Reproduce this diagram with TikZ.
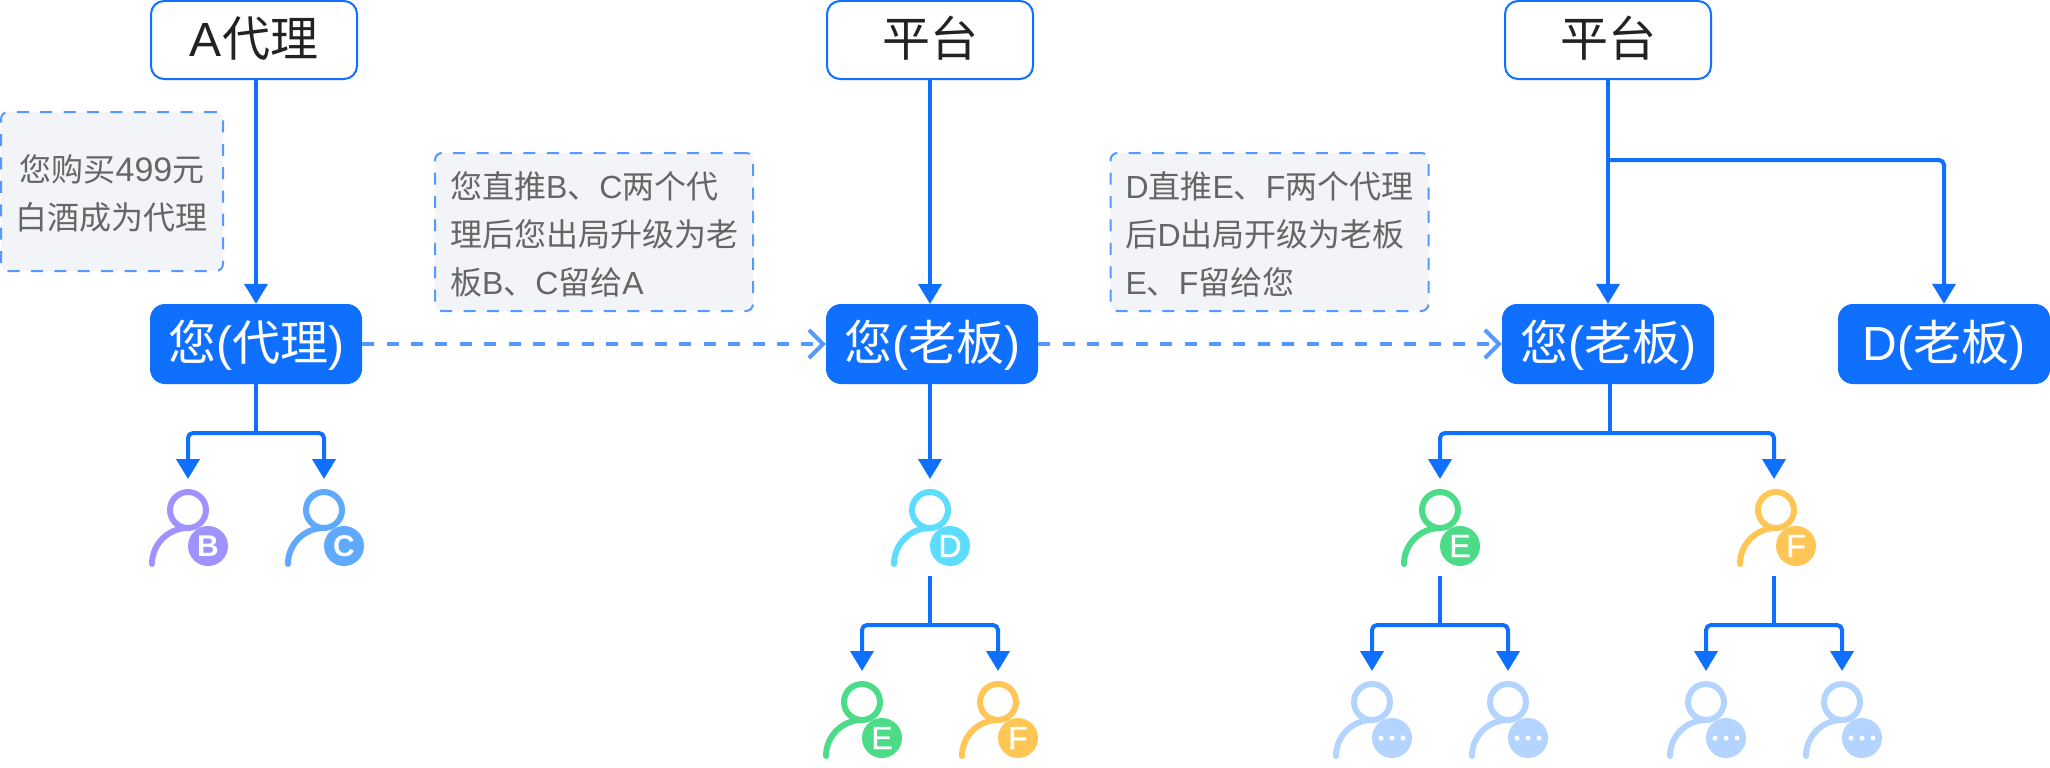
\documentclass[tikz,border=0pt]{standalone}
\usepackage{fontspec}
\setmainfont{Noto Sans CJK SC}
\newfontfamily\lat{Liberation Sans}
\newfontfamily\latm[RawFeature={embolden=1}]{Liberation Sans}
\usetikzlibrary{arrows.meta}
\definecolor{mainblue}{HTML}{0F6FFF}
\definecolor{dashblue}{HTML}{5599FF}
\definecolor{notefill}{HTML}{F2F4F8}
\definecolor{notetext}{HTML}{666666}
\definecolor{darktext}{HTML}{222222}
\definecolor{pB}{HTML}{A193FF}
\definecolor{pC}{HTML}{5FA9FF}
\definecolor{pD}{HTML}{5CDDFF}
\definecolor{pE}{HTML}{4CDB87}
\definecolor{pF}{HTML}{FFC555}
\definecolor{pM}{HTML}{B3D4FF}
\newcommand{\notelift}{\rule{0pt}{31pt}}
\tikzset{
  x=1pt,y=-1pt,
  topbox/.style={draw=mainblue,fill=white,line width=2pt,rounded corners=13pt,minimum width=206pt,minimum height=78pt,inner sep=0pt,text=darktext,font=\fontsize{48}{48}\selectfont,text height=38pt,text depth=5pt},
  youbox/.style={fill=mainblue,rounded corners=15pt,minimum width=212pt,minimum height=80pt,inner sep=0pt,text=white,font=\fontsize{48}{48}\selectfont,text height=38pt,text depth=5pt},
  notebox/.style={draw=dashblue,fill=notefill,line width=2pt,dash pattern=on 12pt off 11.4pt,rounded corners=7pt,minimum width=318pt,minimum height=158pt,inner sep=0pt,text=notetext,font=\fontsize{32}{48}\selectfont},
  conn/.style={draw=mainblue,line width=4pt,-{Triangle[length=20pt,width=23pt]},shorten >=0pt},
  plainconn/.style={draw=mainblue,line width=4pt},
  hop/.style={draw=dashblue,line width=4pt,dash pattern=on 12pt off 12.4pt,-{Straight Barb[length=14pt,width=28pt,line width=4pt]}},
  headnode/.style={circle,draw=#1,fill=white,line width=6pt,minimum size=36pt,inner sep=0pt},
  badgenode/.style={circle,fill=#1,minimum size=40pt,inner sep=0pt,text=white,font=\latm\fontsize{32}{32}\selectfont},
  dotnode/.style={circle,fill=white,minimum size=5pt,inner sep=0pt},
  tipnode/.style={inner sep=0pt,outer sep=0pt,minimum size=0pt}
}
% name, head x, head y, colour, letter
\newcommand{\personicon}[5]{%
  \draw[#4,line width=6pt,line cap=round] (#2-36,#3+54) arc[start angle=180,end angle=90,x radius=36pt,y radius=36pt];
  \node[headnode=#4] (#1) at (#2,#3) {};
  \node[badgenode=#4] (#1b) at (#2+20,#3+36) {#5};
}
\newcommand{\moreicon}[3]{%
  \draw[pM,line width=6pt,line cap=round] (#2-36,#3+54) arc[start angle=180,end angle=90,x radius=36pt,y radius=36pt];
  \node[headnode=pM] (#1) at (#2,#3) {};
  \node[badgenode=pM] (#1b) at (#2+20,#3+36) {};
  \node[dotnode] (#1d1) at (#2+9,#3+36) {};
  \node[dotnode] (#1d2) at (#2+20,#3+36) {};
  \node[dotnode] (#1d3) at (#2+31,#3+36) {};
}
% source coordinate, branch y, left target, right target
\newcommand{\forkto}[4]{%
  \draw[plainconn] (#1) -- (#1 |- 0,#2);
  \draw[conn,rounded corners=5pt] (#1 |- 0,#2) -| ([yshift=10pt]#3.north);
  \draw[conn,rounded corners=5pt] (#1 |- 0,#2) -| ([yshift=10pt]#4.north);
}
\begin{document}
\begin{tikzpicture}
\useasboundingbox (0,0) rectangle (2050,768);
% top boxes
\node[topbox] (A) at (254,40) {{\lat A}代理};
\node[topbox] (P1) at (930,40) {平台};
\node[topbox] (P2) at (1608,40) {平台};
% main boxes
\node[youbox] (Y1) at (256,344) {您{\lat(}代理{\lat)}};
\node[youbox] (Y2) at (932,344) {您{\lat(}老板{\lat)}};
\node[youbox] (Y3) at (1608,344) {您{\lat(}老板{\lat)}};
\node[youbox] (DB) at (1944,344) {{\lat D(}老板{\lat)}};
% notes
\node[notebox,minimum width=222pt,minimum height=159pt,align=center] (N1) at (112,191.5) {\notelift 您购买{\lat\fontsize{34}{48}\selectfont 499}元\\白酒成为代理};
\node[notebox,align=left] (N2) at (594,232) {\notelift 您直推{\lat B}、{\lat C}两个代\\理后您出局升级为老\\板{\lat B}、{\lat C}留给{\lat A}};
\node[notebox,align=left] (N3) at (1269.5,232) {\notelift {\lat D}直推{\lat E}、{\lat F}两个代理\\后{\lat D}出局开级为老板\\{\lat E}、{\lat F}留给您};
% people
\personicon{pb}{188}{510}{pB}{\lat\bfseries\fontsize{30}{30}\selectfont B}
\personicon{pc}{324}{510}{pC}{\lat\bfseries\fontsize{30}{30}\selectfont C}
\personicon{pd}{930}{510}{pD}{D}
\personicon{pe1}{862}{702}{pE}{E}
\personicon{pf1}{998}{702}{pF}{F}
\personicon{pe2}{1440}{510}{pE}{E}
\personicon{pf2}{1776}{510}{pF}{F}
\moreicon{m1}{1372}{702}
\moreicon{m2}{1508}{702}
\moreicon{m3}{1706}{702}
\moreicon{m4}{1842}{702}
% free ends
\node[tipnode] (f2tip) at (1774,489) {};
\coordinate (Dout) at (pd |- 0,576);
\coordinate (Eout) at (pe2 |- 0,576);
\coordinate (Fout) at (1774,576);
\coordinate (Y2in) at (930,304);
\coordinate (Y2out) at (930,384);
\coordinate (Y3out) at (1610,384);
\coordinate (Split) at (1608,160);
% vertical connectors
\draw[conn] (Y1.north |- A.south) -- (Y1.north);
\draw[conn] (P1.south) -- (Y2in);
\draw[conn] (P2.south) -- (Y3.north);
\draw[conn,rounded corners=5pt] (Split) -| (DB.north);
\draw[conn] (Y2out) -- ([yshift=10pt]pd.north);
% forks
\forkto{Y1.south}{433}{pb}{pc}
\forkto{Y3out}{433}{pe2}{f2tip}
\forkto{Dout}{625}{pe1}{pf1}
\forkto{Eout}{625}{m1}{m2}
\forkto{Fout}{625}{m3}{m4}
% hops
\draw[hop] (Y1.east) -- (Y2.west);
\draw[hop] (Y2.east) -- (Y3.west);
\end{tikzpicture}
\end{document}
